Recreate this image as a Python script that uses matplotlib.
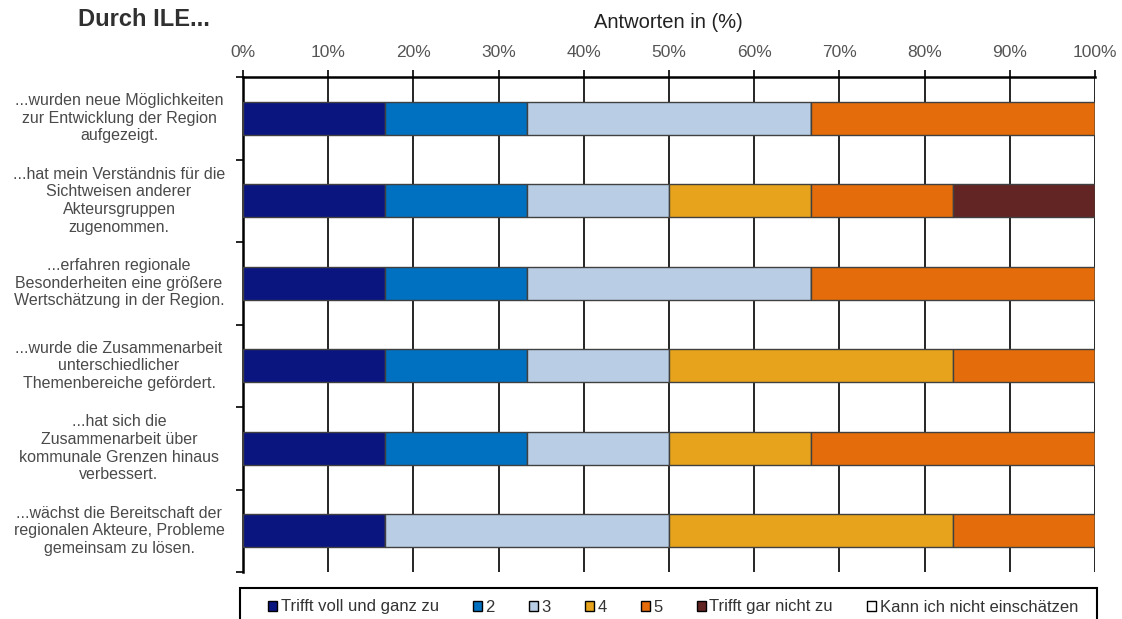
import matplotlib
matplotlib.use("Agg")
import matplotlib.pyplot as plt
from matplotlib.patches import Rectangle, Patch
import numpy as np

plt.rcParams['font.family'] = ['Liberation Sans', 'DejaVu Sans']

categories = [
    "...wurden neue Möglichkeiten\nzur Entwicklung der Region\naufgezeigt.",
    "...hat mein Verständnis für die\nSichtweisen anderer\nAkteursgruppen\nzugenommen.",
    "...erfahren regionale\nBesonderheiten eine größere\nWertschätzung in der Region.",
    "...wurde die Zusammenarbeit\nunterschiedlicher\nThemenbereiche gefördert.",
    "...hat sich die\nZusammenarbeit über\nkommunale Grenzen hinaus\nverbessert.",
    "...wächst die Bereitschaft der\nregionalen Akteure, Probleme\ngemeinsam zu lösen.",
]
series_names = ["Trifft voll und ganz zu", "2", "3", "4", "5",
                "Trifft gar nicht zu", "Kann ich nicht einschätzen"]
s1 = [16.67, 16.67, 16.67, 16.67, 16.67, 16.67]
s2 = [16.67, 16.67, 16.67, 16.67, 16.67, 0.0]
s3 = [33.33, 16.67, 33.33, 16.67, 16.67, 33.33]
s4 = [0.0, 16.67, 0.0, 33.33, 16.67, 33.33]
s5 = [33.33, 16.67, 33.33, 16.67, 33.33, 16.67]
s6 = [0.0, 16.67, 0.0, 0.0, 0.0, 0.0]
s7 = [0.0, 0.0, 0.0, 0.0, 0.0, 0.0]
series = [s1, s2, s3, s4, s5, s6, s7]
colors = ["#0A1580", "#0070C0", "#B9CDE5", "#E6A31B", "#E46C0A", "#632523", "#FFFFFF"]
xticks = [0, 10, 20, 30, 40, 50, 60, 70, 80, 90, 100]
xtick_labels = [f"{v}%" for v in xticks]

fig = plt.figure(figsize=(11.22, 6.19), dpi=100)
ax = fig.add_axes([243/1122, 1-572/619, (1095-243)/1122, (572-77)/619])

y = np.arange(len(categories))
left = np.zeros(len(categories))
for vals, c in zip(series, colors):
    vals = np.array(vals)
    ax.barh(y, vals, left=left, height=0.4, color=c, edgecolor="#404040",
            linewidth=1.0, zorder=3)
    left += vals

ax.set_xlim(0, 100)
ax.set_ylim(len(categories)-0.5, -0.5)
ax.set_xticks(xticks)
ax.set_xticklabels(xtick_labels)
ax.xaxis.tick_top()
ax.tick_params(axis='x', colors='black', labelcolor='#555555', labelsize=12.5,
               length=5, width=1.2, pad=7)
ax.set_yticks(np.arange(-0.5, len(categories), 1.0))
ax.set_yticklabels([])
ax.tick_params(axis='y', length=5, width=1.2)
ax.grid(axis='x', color='black', linewidth=1.2, zorder=0)
for side in ['right', 'bottom']:
    ax.spines[side].set_visible(False)
ax.spines['top'].set_linewidth(1.8)
ax.spines['left'].set_linewidth(1.8)

for yi, lab in zip(y, categories):
    ax.text(-0.1455, yi, lab, transform=ax.get_yaxis_transform(),
            ha='center', va='center', fontsize=11.5, color='#4a4a4a',
            linespacing=1.22)

fig.text(668/1122, 1-22/619, "Antworten in (%)", ha='center', va='center',
         fontsize=14.5, color='#222222')
fig.text(78/1122, 1-20/619, "Durch ILE...", ha='left', va='center',
         fontsize=17, fontweight='bold', color='#303030')

fig.patches.append(Rectangle((240/1122, -0.05), (1097-240)/1122, 0.05 + (619-588)/619,
                             transform=fig.transFigure, facecolor='white',
                             edgecolor='black', linewidth=1.5, clip_on=False))
handles = [Patch(facecolor=c, edgecolor='black', linewidth=1.0) for c in colors]
fig.legend(handles, series_names, loc='center', bbox_to_anchor=(673/1122, 1-607/619),
           ncol=7, frameon=False, fontsize=12, handlelength=0.55, handleheight=0.55,
           handletextpad=0.2, columnspacing=2.05, labelcolor='#333333')

fig.savefig("out.png", dpi=100)
